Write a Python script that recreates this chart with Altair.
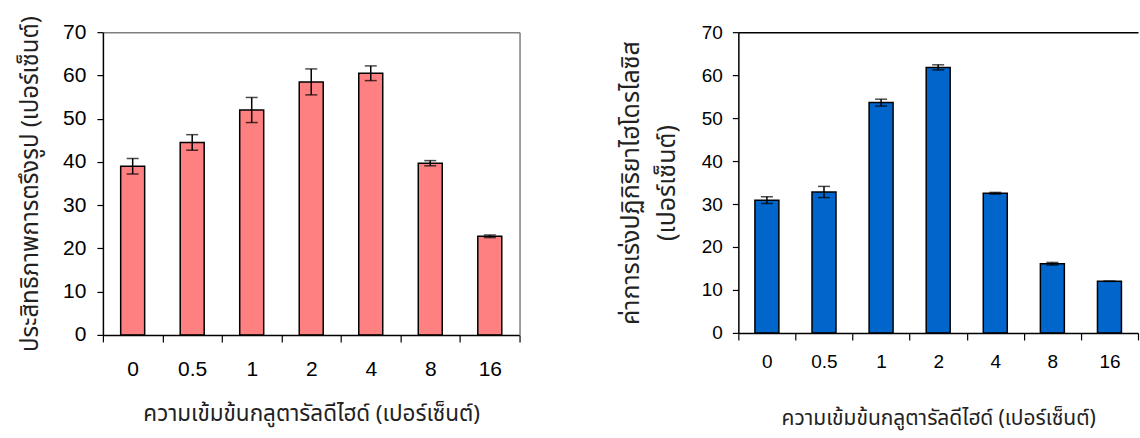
import altair as alt
import pandas as pd

# Glutaraldehyde concentration (%) on the category axis
concentrations = ["0", "0.5", "1", "2", "4", "8", "16"]

# Immobilization efficiency (%) with standard deviation
immobilization = [39.0, 44.5, 52.0, 58.5, 60.5, 39.7, 22.8]
immobilization_err = [1.8, 1.8, 2.9, 3.0, 1.7, 0.6, 0.3]

# Hydrolytic activity (%) with standard deviation
hydrolysis = [30.9, 32.8, 53.6, 61.8, 32.5, 16.1, 12.0]
hydrolysis_err = [0.8, 1.3, 0.8, 0.6, 0.2, 0.3, 0.0]

x_title = "ความเข้มข้นกลูตารัลดีไฮด์ (เปอร์เซ็นต์)"
left_y_title = "ประสิทธิภาพการตรึงรูป (เปอร์เซ็นต์)"
right_y_title = ["ค่าการเร่งปฏิกิริยาไฮโดรไลซิส", "(เปอร์เซ็นต์)"]
y_ticks = [0, 10, 20, 30, 40, 50, 60, 70]

THAI = "Noto Sans Thai, Loma, Garuda, sans-serif"


def frame(values, errs):
    return pd.DataFrame({
        "conc": concentrations,
        "amount": values,
        "lo": [v - e for v, e in zip(values, errs)],
        "hi": [v + e for v, e in zip(values, errs)],
    })


def panel(values, errs, fill, width, height, y_title, label_size,
          x_label_pad, x_title_pad, x_title_size,
          y_label_pad, y_title_pad, y_title_size, border_color, right_border):
    df = frame(values, errs)
    xscale = alt.Scale(domain=concentrations, paddingInner=0, paddingOuter=0)
    yscale = alt.Scale(domain=[0, 70], nice=False)

    x_axis = alt.Axis(
        orient="bottom", labelAngle=0, labelFontSize=label_size,
        labelPadding=x_label_pad, tickBand="extent", tickSize=7,
        title=x_title, titlePadding=x_title_pad, titleFontSize=x_title_size,
        zindex=1,
    )
    y_axis = alt.Axis(
        orient="left", values=y_ticks, labelFontSize=label_size,
        labelPadding=y_label_pad, tickSize=6, title=y_title,
        titlePadding=y_title_pad, titleFontSize=y_title_size,
        titleLineHeight=36, zindex=1,
    )

    base = alt.Chart(df)
    bars = base.mark_bar(size=24, fill=fill, stroke="black", strokeWidth=1.5).encode(
        x=alt.X("conc:N", sort=concentrations, scale=xscale, axis=x_axis),
        y=alt.Y("amount:Q", scale=yscale, axis=y_axis),
    )

    # frame lines along the top (and right) of the plot
    top_axis = alt.Axis(orient="top", labels=False, ticks=False, title=None,
                        domainColor=border_color, zindex=1)
    if right_border:
        side_axis = alt.Axis(orient="right", labels=False, ticks=False, title=None,
                             domainColor=border_color, values=y_ticks, zindex=1)
    else:
        side_axis = None
    stems = base.mark_rule(color="black", strokeWidth=1.5).encode(
        x=alt.X("conc:N", sort=concentrations, scale=xscale, axis=top_axis),
        y=alt.Y("lo:Q", scale=yscale, axis=side_axis),
        y2="hi:Q",
    )
    caps_hi = base.mark_tick(color="black", size=12, thickness=1.5).encode(
        x=alt.X("conc:N", sort=concentrations, scale=xscale, axis=None),
        y=alt.Y("hi:Q", scale=yscale, axis=None),
    )
    caps_lo = base.mark_tick(color="black", size=12, thickness=1.5).encode(
        x=alt.X("conc:N", sort=concentrations, scale=xscale, axis=None),
        y=alt.Y("lo:Q", scale=yscale, axis=None),
    )
    return (
        alt.layer(bars, stems, caps_hi, caps_lo)
        .resolve_axis(x="independent", y="independent")
        .properties(width=width, height=height)
    )


left = panel(immobilization, immobilization_err, "#FF8080", 417, 303,
             left_y_title, 21, 17, 23, 22.5, 11, 20, 24, "#808080", True)
right = panel(hydrolysis, hydrolysis_err, "#0066CC", 400, 301,
              right_y_title, 19, 13, 36, 21, 10, 22, 25, "black", False)

chart = alt.hconcat(left, right, spacing=96).properties(
    padding={"left": 18, "top": 14, "right": 0, "bottom": 8},
    background="white",
).configure_view(
    stroke="transparent"
).configure_axis(
    labelFont="Liberation Sans", labelColor="black", tickColor="black",
    domainColor="black", domainWidth=1.5, tickWidth=1.2, grid=False,
    titleFont=THAI, titleFontWeight="normal", titleColor="#222",
)

chart.save("out.html", embed_options={"renderer": "svg", "actions": False})
